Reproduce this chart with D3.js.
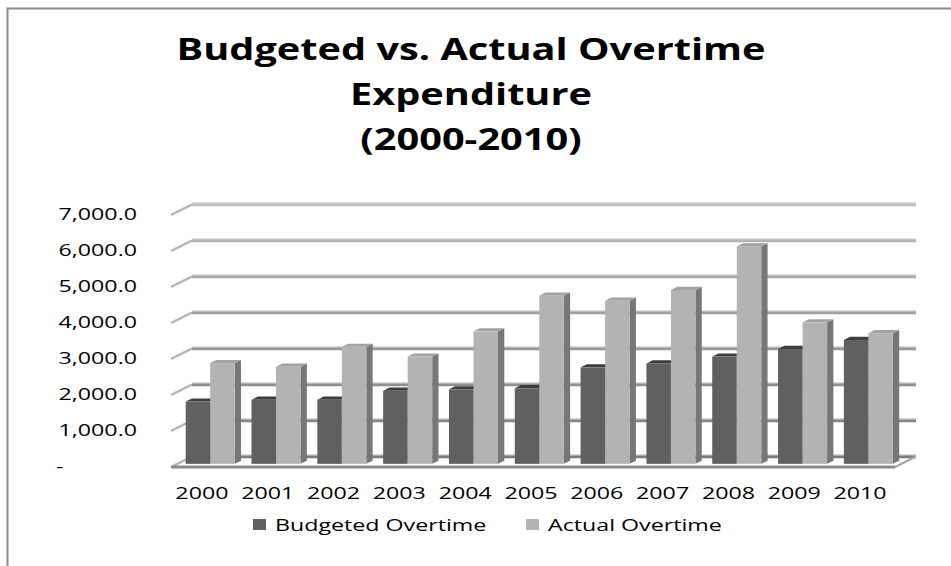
<!DOCTYPE html>
<html>
<head>
<meta charset="utf-8">
<script src="https://cdn.jsdelivr.net/npm/d3@7"></script>
<style>
  html, body { margin: 0; padding: 0; background: #fff; }
  svg { display: block; }
</style>
</head>
<body>
<svg id="chart" width="951" height="566"></svg>
<script>
// ---- data ----
const years = ['2000','2001','2002','2003','2004','2005','2006','2007','2008','2009','2010'];
const budgeted = [1730, 1780, 1780, 2030, 2070, 2100, 2680, 2790, 2980, 3190, 3440];
const actual   = [2800, 2700, 3250, 2980, 3680, 4670, 4530, 4830, 6040, 3930, 3630];
const seriesNames = ['Budgeted Overtime', 'Actual Overtime'];
const yTicks = [0, 1000, 2000, 3000, 4000, 5000, 6000, 7000];
const yTickLabels = ['-', '1,000.0', '2,000.0', '3,000.0', '4,000.0', '5,000.0', '6,000.0', '7,000.0'];
const titleLines = ['Budgeted vs. Actual Overtime', 'Expenditure', '(2000-2010)'];

// ---- layout ----
const W = 951, H = 566;
const svg = d3.select('#chart');
const STRETCH = 1.45;
const FONT = "'Open Sans', 'DejaVu Sans', sans-serif";

const frontLeft = 171, frontRight = 895;
const DX = 21, DY = -10.5;         // depth offset of the back wall
const zFront = 0.3, zBack = 0.6;   // bar depth range

const x = d3.scaleBand().domain(years).range([frontLeft, frontRight])
  .paddingInner(0.255).paddingOuter(0.1275);
const xs = d3.scaleBand().domain(seriesNames).range([0, x.bandwidth()]);
const y = d3.scaleLinear().domain([0, 7000]).range([467, 215]);

const proj = (px, py, z) => [px + z * DX, py + z * DY];

function stretchText(sel, k = STRETCH) {
  sel.each(function() {
    const n = this.getComputedTextLength();
    d3.select(this).attr('textLength', n * k).attr('lengthAdjust', 'spacingAndGlyphs');
  });
}

// border
svg.append('path')
  .attr('d', `M7.5,${H} L7.5,8.5 L${W},8.5`)
  .attr('fill', 'none').attr('stroke', '#8c8c8c').attr('stroke-width', 2);

// title
const title = svg.append('g').selectAll('text').data(titleLines).join('text')
  .attr('x', 471).attr('y', (d, i) => 60 + i * 45)
  .attr('text-anchor', 'middle')
  .attr('font-family', FONT).attr('font-weight', 700).attr('font-size', 30.5)
  .attr('fill', '#000')
  .text(d => d);
const titleK = 589 / title.node().getComputedTextLength();
title.call(stretchText, titleK);

// gridlines on back wall + slanted side ticks
const gridColor = d3.scaleLinear().domain([0, 7000]).range(['#7c7c7c', '#bdbdbd']);
const grid = svg.append('g');
grid.selectAll('line.side').data(yTicks).join('line')
  .attr('class', 'side')
  .attr('x1', d => proj(frontLeft, y(d), 0)[0])
  .attr('y1', d => proj(frontLeft, y(d), 0)[1])
  .attr('x2', d => proj(frontLeft, y(d), 1)[0])
  .attr('y2', d => proj(frontLeft, y(d), 1)[1])
  .attr('stroke', '#b4b4b4').attr('stroke-width', 2.5);
grid.selectAll('line.back').data(yTicks).join('line')
  .attr('class', 'back')
  .attr('x1', d => proj(frontLeft, y(d), 1)[0])
  .attr('y1', d => proj(frontLeft, y(d), 1)[1])
  .attr('x2', d => proj(frontRight, y(d), 1)[0])
  .attr('y2', d => proj(frontRight, y(d), 1)[1])
  .attr('stroke', d => gridColor(d)).attr('stroke-width', 3.5);
grid.selectAll('line.hi').data(yTicks).join('line')
  .attr('class', 'hi')
  .attr('x1', d => proj(frontLeft, y(d), 1)[0])
  .attr('y1', d => proj(frontLeft, y(d), 1)[1] - 1.5)
  .attr('x2', d => proj(frontRight, y(d), 1)[0])
  .attr('y2', d => proj(frontRight, y(d), 1)[1] - 1.5)
  .attr('stroke', '#d6d6d6').attr('stroke-width', 1);

// floor front edge and right side
const floor = svg.append('g');
floor.append('line')
  .attr('x1', frontLeft).attr('y1', y(0)).attr('x2', frontRight).attr('y2', y(0))
  .attr('stroke', '#8a8a8a').attr('stroke-width', 3);
floor.append('line')
  .attr('x1', frontRight).attr('y1', y(0))
  .attr('x2', proj(frontRight, y(0), 1)[0]).attr('y2', proj(frontRight, y(0), 1)[1])
  .attr('stroke', '#a8a8a8').attr('stroke-width', 2.5);

// bars
const colors = {
  'Budgeted Overtime': { front: '#606060', top: '#3e3e3e', side: '#4c4c4c' },
  'Actual Overtime':   { front: '#b3b3b3', top: '#a2a2a2', side: '#777777' }
};
const barData = [];
years.forEach((yr, i) => {
  barData.push({ year: yr, series: seriesNames[0], value: budgeted[i] });
  barData.push({ year: yr, series: seriesNames[1], value: actual[i] });
});
const pts = a => a.map(p => p.join(',')).join(' ');
const bars = svg.append('g').selectAll('g').data(barData).join('g');
bars.each(function(d) {
  const g = d3.select(this);
  const xl = x(d.year) + xs(d.series);
  const xr = xl + xs.bandwidth();
  const yv = y(d.value), y0 = y(0);
  const c = colors[d.series];
  g.append('polygon')
    .attr('points', pts([proj(xr, yv, zFront), proj(xr, yv, zBack), proj(xr, y0, zBack), proj(xr, y0, zFront)]))
    .attr('fill', c.side);
  g.append('polygon')
    .attr('points', pts([proj(xl, yv, zFront), proj(xl, yv, zBack), proj(xr, yv, zBack), proj(xr, yv, zFront)]))
    .attr('fill', c.top);
  const [fx, fy] = proj(xl, yv, zFront);
  const [, fy0] = proj(xl, y0, zFront);
  g.append('rect')
    .attr('x', fx).attr('y', fy)
    .attr('width', xs.bandwidth()).attr('height', fy0 - fy)
    .attr('fill', c.front);
});

// y axis labels (the zero label "-" sits at the left edge, accounting style)
svg.append('g').selectAll('text').data(yTicks).join('text')
  .attr('x', d => d === 0 ? 56 : 137).attr('y', d => y(d) + 1)
  .attr('dominant-baseline', 'middle')
  .attr('text-anchor', d => d === 0 ? 'start' : 'end')
  .attr('font-family', FONT).attr('font-size', 16).attr('fill', '#000')
  .text((d, i) => yTickLabels[i])
  .call(stretchText);

// x axis labels
svg.append('g').selectAll('text').data(years).join('text')
  .attr('x', d => x(d) + x.bandwidth() / 2 - 2).attr('y', 499)
  .attr('text-anchor', 'middle')
  .attr('font-family', FONT).attr('font-size', 16).attr('fill', '#000')
  .text(d => d)
  .call(stretchText);

// legend
const legendX = [253, 526];
const legend = svg.append('g').selectAll('g').data(seriesNames).join('g')
  .attr('transform', (d, i) => `translate(${legendX[i]}, 531)`);
legend.append('rect')
  .attr('x', 0).attr('y', -12).attr('width', 13).attr('height', 11)
  .attr('fill', d => colors[d].front);
legend.append('text')
  .attr('x', 22).attr('y', 0)
  .attr('font-family', FONT).attr('font-size', 16).attr('fill', '#000')
  .text(d => d)
  .call(stretchText);
</script>
</body>
</html>
